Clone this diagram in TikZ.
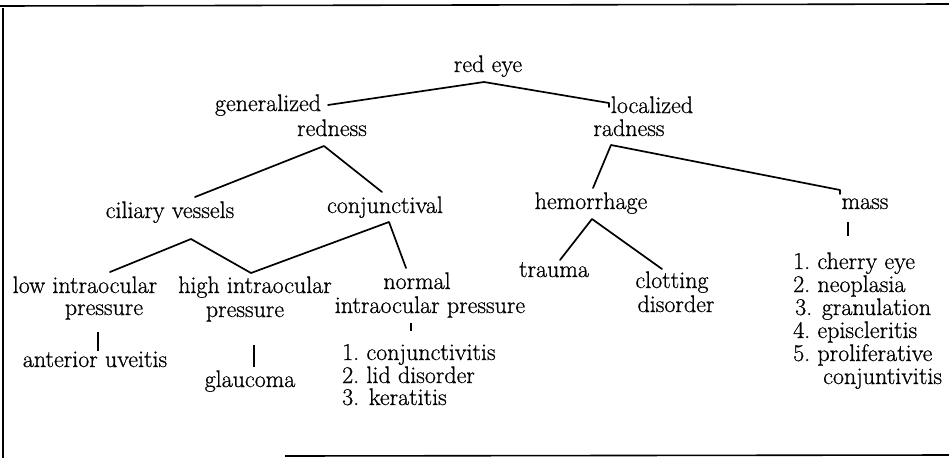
\documentclass[tikz,border=0pt]{standalone}
\usepackage{fontspec}
\setmainfont{Latin Modern Roman}[FakeBold=0.7]
\tikzset{
  lbl/.style={inner sep=0pt, text height=15pt, text depth=5pt,
              font=\fontsize{24}{24}\selectfont},
  item/.style={lbl, anchor=west},
  conn/.style={line width=1.7pt, line cap=round, line join=round},
  tick/.style={line width=2.2pt},
  frame/.style={line width=1.6pt}
}
\begin{document}
\begin{tikzpicture}[x=1pt,y=-1pt]
\useasboundingbox (0,0) rectangle (949,461);
\fill[white] (0,0) rectangle (949,461);

% open frame: top, left and part of the bottom
\draw[frame] (0,6) -- (949,4);
\draw[frame] (3,8) -- (3,458);
\draw[frame] (285,456) -- (949,455);

% labels
\node[lbl] (redeye) at (488,67) {red eye};
\node[lbl] (gen) at (268,106) {generalized};
\node[lbl] (genred) at (332,131) {redness};
\node[lbl] (loc) at (652,108) {localized};
\node[lbl] (locred) at (629,131) {radness};
\node[lbl] (cil) at (170,213) {ciliary vessels};
\node[lbl] (conj) at (385,208) {conjunctival};
\node[lbl] (hem) at (591,204) {hemorrhage};
\node[lbl] (mass) at (865,204) {mass};
\node[lbl] (low) at (85,288) {low intraocular};
\node[lbl] (lowp) at (104,310) {pressure};
\node[lbl] (high) at (255,288) {high intraocular};
\node[lbl] (highp) at (245,312) {pressure};
\node[lbl] (norm) at (417,284) {normal};
\node[lbl] (normp) at (430,308) {intraocular pressure};
\node[lbl] (uve) at (95,362) {anterior uveitis};
\node[lbl] (glau) at (250,382) {glaucoma};
\node[item] (n1) at (342,355) {1.\ conjunctivitis};
\node[item] (n2) at (342,378) {2.\ lid disorder};
\node[item] (n3) at (342,400) {3. keratitis};
\node[lbl] (trauma) at (554,272) {trauma};
\node[lbl] (clot) at (672,283) {clotting};
\node[lbl] (clotd) at (676,307) {disorder};
\node[item] (m1) at (793,264) {1.\ cherry eye};
\node[item] (m2) at (793,287) {2.\ neoplasia};
\node[item] (m3) at (795,310) {3. granulation};
\node[item] (m4) at (793,333) {4.\ episcleritis};
\node[item] (m5) at (793,356) {5.\ proliferative};
\node[item] (m5b) at (823,379) {conjuntivitis};

% junction points of the branches
\coordinate (pRed) at (484,82);
\coordinate (eGen) at (328,105);
\coordinate (eLoc) at (609,103);
\coordinate (pGen) at (324,146);
\coordinate (eCil) at (195,197);
\coordinate (eConj) at (382,192);
\coordinate (pCil) at (191,239);
\coordinate (eLow) at (110,272);
\coordinate (eHigh) at (251,273);
\coordinate (pConj) at (389,222);
\coordinate (eNorm) at (406,268);
\coordinate (pLoc) at (611,145);
\coordinate (eHem) at (593,188);
\coordinate (eMass) at (840,190);
\coordinate (pHem) at (592,219);
\coordinate (eTrauma) at (560,260);
\coordinate (eClot) at (662,269);

% branches
\draw[conn] (eGen) -- (pRed) -- (eLoc) -- ++(0,4);
\draw[conn] (eCil) -- (pGen) -- (eConj);
\draw[conn] (eLow) -- (pCil) -- (eHigh) -- (pConj) -- (eNorm);
\draw[conn] (eHem) -- (pLoc) -- (eMass) -- ++(0,4);
\draw[conn] (eTrauma) -- (pHem) -- (eClot);

% short stems to the leaves
\coordinate (sLow) at (98,332);
\coordinate (sHigh) at (254,345);
\coordinate (sNorm) at (411,323);
\coordinate (sMass) at (848,222);
\draw[tick] (sLow) -- ++(0,19);
\draw[tick] (sHigh) -- ++(0,22);
\draw[line width=1.2pt] (sNorm) -- ++(0,8);
\draw[tick] (sMass) -- ++(0,14);
\end{tikzpicture}
\end{document}
